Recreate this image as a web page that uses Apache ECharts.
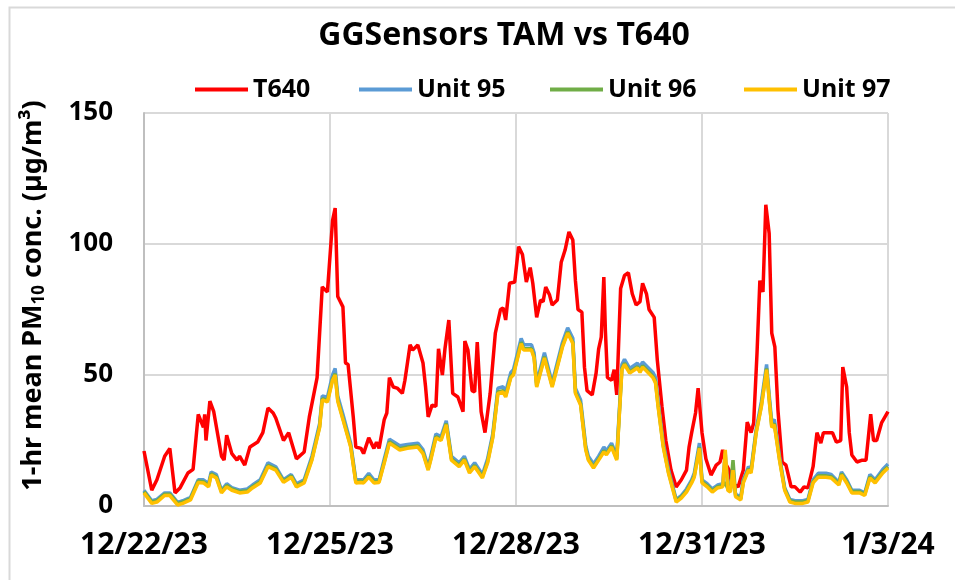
<!DOCTYPE html>
<html>
<head>
<meta charset="utf-8">
<script src="https://cdn.jsdelivr.net/npm/echarts@6/dist/echarts.min.js"></script>
<style>
  html, body { margin: 0; padding: 0; background: #fff; }
  #chart { width: 955px; height: 580px; }
</style>
</head>
<body>
<div id="chart"></div>
<script>
// x values are hours since 12/22/23 00:00
var tickLabels = ['12/22/23', '12/25/23', '12/28/23', '12/31/23', '1/3/24'];

var t640 = [[0,21],[3,6],[5,10],[8,19],[10,22],[12,5],[14,7],[17,12.6],[19,14],[21,35],[23,30],[23.5,35],[24,25],[25.5,40],[27,36],
  [30,19],[31,17.5],[32,27],[34,20],[36,17.5],[37,19],[39,15.6],[41,22.5],[44,24.4],[46,28],[48,37.4],[50,35.5],[51,33.6],[54,25],
  [56,28],[59,18],[62,20.6],[64,34],[67,49],[69,83.6],[71,81.7],[73,109],[74,113.7],[75,80],[77,76],[78,54.6],[79,54],[81,34],
  [82,22.5],[84,22],[85,20],[87,26],[89,22],[90,24.4],[91,22],[93,33],[94,35.5],[95,49],[96.5,45.4],[98,45],[100,43],[101,48],
  [103,61.5],[104,59.5],[106,61.5],[108,54.6],[109,45.4],[110,34],[111.5,38.5],[113,38],[114,60],[115.5,50],[116.5,60],[118,71],
  [119.5,43],[121.5,41.6],[123.5,36],[124.2,63],[125.4,59.5],[127,44],[128,43.5],[129,62.6],[130.5,36],[132,28],[134,43],[136,66],
  [138,75],[139,75.6],[140,71],[141.5,85],[143.5,85.5],[145,99],[146.5,96],[148,85.5],[149.5,91],[150.5,85],[152,72],[153.5,78.6],
  [154.5,78],[155.5,83.6],[157,80.5],[158,76.7],[160,78.6],[161.5,93],[163,97.7],[164.5,104.6],[166,101.5],[167,86],[168,75],
  [169.5,74],[170.5,53],[171.5,44],[173.5,42.4],[175,50.7],[176,60],[177,64.5],[178,87.4],[178.6,67],[179.4,49],[181,48],[182,52],
  [183,42.4],[184.5,83],[186,88],[187.5,89],[189,81],[190.5,76.7],[192,78],[193,85],[194.5,81],[195.5,75],[197.5,72],[198.7,55.7],
  [200.5,38],[202,25],[204,13.7],[206,7.3],[208,10],[210,13.7],[211,22.5],[212,28],[213.5,35.5],[214.5,45],[216,28],[217.5,18],
  [219.5,11.8],[221.5,15.6],[223,16.8],[224,21.4],[225,16.4],[226.5,13.7],[227.5,8.8],[230,7.3],[232,13.7],[233.5,32],[235,28],
  [236,31.7],[237.3,58.4],[238.4,86],[239.6,81.7],[240.7,115],[242,104],[243,66],[244.2,60.7],[245.4,36.6],[247,16.8],[248.5,15.6],
  [250.5,7.3],[252,7.3],[254,5.3],[255.5,7.3],[257,6.9],[259,15],[260.5,28],[262,24],[263,28],[265,28],[266.5,28],[268,24.4],
  [269.7,25],[270.5,53],[272,45.4],[273,28],[274,19.5],[276,16.8],[278,17.5],[279.5,17.5],[281.3,35],[282.4,25],[283.6,25],
  [285.5,31.7],[288,36]];

var unit95 = [[0,6],[3,2],[5,2.5],[8,5],[10,5],[13,1.4],[15,2],[18,3.3],[21,10],[23,10],[25,8.5],[26,13],[28,12],[30,6],[32,8.5],
  [34,7],[37,6],[40,6.5],[42,8],[45,10],[48,16.5],[51,15],[54,10],[57,12],[59,8.5],[62,10],[65,19],[68,31.5],[69,42],[71,41.5],
  [73,50],[74,52.5],[75,42],[77,35],[80,24],[82,10],[84,10],[85,10],[87,12.5],[89,10],[91,10],[93,18],[95,25.5],[99,23],[102,23.5],
  [106,24],[108,21.5],[110,15],[111,19],[113,27.5],[115,26.5],[117,32.5],[119,19],[122,16.5],[124,19],[126,14],[128,16.5],[131,12],
  [133,18],[135,27.5],[137,45],[139,45.5],[140,43.5],[142,51],[143,52],[146,64],[147,61.5],[150,61.5],[151,58.5],[152,47],[155,58.5],
  [158,47],[162,62.5],[164,68],[166,64],[167,45],[169,40.5],[171,23],[172,19],[174,16],[176,19],[178,22.5],[179,21],[181,24],[183,19],
  [185,54],[186,56],[188,52.5],[191,54.5],[192,53],[193,55],[195,53],[197,51],[198,49],[199,40],[201,24],[203,14],[206,2.5],[208,4],
  [210,6.5],[212,10],[213,12.5],[215,24],[216,10],[218,8.5],[220,6.5],[222,8],[224,8.5],[225,20],[226,7],[227,6.5],[228,12],[229,4.5],
  [231,3.5],[232,10],[234,15],[235,14],[237,29.5],[239,40],[241,54],[242,42.5],[243,32],[244,33],[246,19],[248,7],[250,2.5],[252,2],
  [255,2],[257,2.5],[259,10],[261,12.5],[264,12.5],[266,12],[269,9],[270,13],[272,10],[274,6],[277,6],[279,5],[281,12],[283,10],
  [286,14],[288,16]];

var unit96 = [[0,5.5],[3,1.5],[5,2],[8,4.5],[10,4.5],[13,1],[15,1.5],[18,2.8],[21,9.5],[23,9.3],[25,7.8],[26,12.3],[28,11.2],[30,5.5],
  [32,7.8],[34,6.5],[37,5.5],[40,5.8],[42,7.4],[45,9.3],[48,15.5],[51,14.2],[54,9.5],[57,11.5],[59,7.8],[62,9.3],[65,18],[68,30.5],
  [69,41],[71,40.2],[73,48.5],[74,50.5],[75,40.5],[77,33.5],[80,23],[82,9.3],[84,9.5],[85,9.3],[87,11.5],[89,9.3],[91,9.5],[93,16.9],
  [95,24.5],[99,21.9],[102,22.5],[106,23],[108,20.5],[110,14.2],[111,18],[113,26.5],[115,25.5],[117,31.5],[119,18],[122,15.5],
  [124,18],[126,13.1],[128,15.5],[131,11.2],[133,16.9],[135,26.5],[137,43.5],[139,44],[140,42.1],[142,49.5],[143,50.5],[146,62.5],
  [147,60],[150,60],[151,57],[152,45.9],[155,57],[158,45.9],[162,61.2],[164,66.5],[166,62.5],[167,43.5],[169,39],[171,21.9],[172,18],
  [174,15],[176,18],[178,21.1],[179,20],[181,23],[183,18],[185,52.5],[186,54.5],[188,51.2],[191,53.2],[192,51.5],[193,53.5],[195,51.5],
  [197,49.5],[198,47.5],[199,38.5],[201,23],[203,13.1],[206,2],[208,3.5],[210,5.8],[212,9.3],[213,11.5],[215,22.5],[216,9.3],[218,7.8],
  [220,5.8],[222,7.4],[224,7.8],[225,9],[226,6.5],[227,5.8],[228,17.5],[229,4],[231,2.8],[232,9.3],[234,14.2],[235,13.1],[237,28.5],
  [239,38.5],[241,52.5],[242,41],[243,30.5],[244,31.5],[246,18],[248,6.5],[250,2],[252,1.5],[255,1.5],[257,2],[259,9.3],[261,11.5],
  [264,11.5],[266,11.2],[269,8.5],[270,12.3],[272,9.3],[274,5.5],[277,5.5],[279,4.5],[281,11.2],[283,9.3],[286,13.1],[288,15]];

var unit97 = [[0,5],[3,1],[5,1.5],[8,4],[10,4],[13,0.4],[15,1],[18,2.3],[21,9],[23,8.8],[25,7.3],[26,11.8],[28,10.7],[30,5],[32,7.3],
  [34,6],[37,5],[40,5.3],[42,6.9],[45,8.8],[48,15],[51,13.7],[54,9],[57,11],[59,7.3],[62,8.8],[65,17.5],[68,30],[69,40.5],[71,39.7],
  [73,48],[74,50],[75,40],[77,33],[80,22.5],[82,8.8],[84,9],[85,8.8],[87,11],[89,8.8],[91,9],[93,16.4],[95,24],[99,21.4],[102,22],
  [106,22.5],[108,20],[110,13.7],[111,17.5],[113,26],[115,25],[117,31],[119,17.5],[122,15],[124,17.5],[126,12.6],[128,15],[131,10.7],
  [133,16.4],[135,26],[137,43],[139,43.5],[140,41.6],[142,49],[143,50],[146,62],[147,59.5],[150,59.5],[151,56.5],[152,45.4],[155,56.5],
  [158,45.4],[162,60.7],[164,66],[166,62],[167,43],[169,38.5],[171,21.4],[172,17.5],[174,14.5],[176,17.5],[178,20.6],[179,19.5],
  [181,22.5],[183,17.5],[185,52],[186,54],[188,50.7],[191,52.7],[192,51],[193,53],[195,51],[197,49],[198,47],[199,38],[201,22.5],
  [203,12.6],[206,1.5],[208,3],[210,5.3],[212,8.8],[213,11],[215,22],[216,8.8],[218,7.3],[220,5.3],[222,6.9],[224,7.3],[225,21.4],
  [226,6],[227,5.3],[228,13.7],[229,3.5],[231,2.3],[232,8.8],[234,13.7],[235,12.6],[237,28],[239,38],[241,52],[242,40.5],[243,30],
  [244,31],[246,17.5],[248,6],[250,1.5],[252,1],[255,1],[257,1.5],[259,8.8],[261,11],[264,11],[266,10.7],[269,8],[270,11.8],[272,8.8],
  [274,5],[277,5],[279,4],[281,10.7],[283,8.8],[286,12.6],[288,14.5]];

var seriesNames = ['T640', 'Unit 95', 'Unit 96', 'Unit 97'];
var seriesColors = ['#ff0000', '#5b9bd5', '#70ad47', '#ffc000'];
var seriesData = [t640, unit95, unit96, unit97];
var legendLeft = [190, 354, 545, 739];

var FONT = '"Noto Sans", "Open Sans", sans-serif';

var myChart = echarts.init(document.getElementById('chart'));

var legends = seriesNames.map(function (name, i) {
    return {
        data: [name],
        left: legendLeft[i],
        top: 72,
        icon: 'rect',
        itemWidth: 53,
        itemHeight: 4,
        textStyle: { fontFamily: FONT, fontWeight: 'bold', fontSize: 25, color: '#000' }
    };
});

var series = seriesNames.map(function (name, i) {
    return {
        name: name,
        type: 'line',
        data: seriesData[i],
        showSymbol: false,
        symbol: 'none',
        color: seriesColors[i],
        lineStyle: { width: 3.5, color: seriesColors[i] },
        animation: false
    };
});

option = {
    backgroundColor: '#fff',
    animation: false,
    title: {
        text: 'GGSensors TAM vs T640',
        left: 499,
        top: 15,
        textAlign: 'center',
        textStyle: { fontFamily: FONT, fontWeight: 'bold', fontSize: 32, color: '#000' }
    },
    legend: legends,
    grid: { left: 144, right: 67, top: 113, bottom: 74, outerBoundsMode: 'none' },
    xAxis: {
        type: 'value',
        min: 0,
        max: 288,
        interval: 72,
        axisLine: { show: true, lineStyle: { color: '#bfbfbf', width: 2 } },
        axisTick: { show: false },
        splitLine: { show: true, lineStyle: { color: '#d9d9d9', width: 2 } },
        axisLabel: {
            margin: 24,
            fontFamily: FONT, fontWeight: 'bold', fontSize: 30, color: '#000',
            formatter: function (v) { return tickLabels[Math.round(v / 72)]; }
        }
    },
    yAxis: {
        type: 'value',
        min: 0,
        max: 150,
        interval: 50,
        axisLine: { show: true, lineStyle: { color: '#bfbfbf', width: 2 } },
        axisTick: { show: false },
        splitLine: { show: true, lineStyle: { color: '#d9d9d9', width: 2 } },
        axisLabel: { margin: 31, fontFamily: FONT, fontWeight: 'bold', fontSize: 26, color: '#000' },
        name: '1-hr mean PM{sub|10} conc. (µg/m³)',
        nameLocation: 'middle',
        nameGap: 96,
        nameTextStyle: {
            fontFamily: FONT, fontWeight: 'bold', fontSize: 27, color: '#000', lineHeight: 30,
            padding: [0, 0, 0, 28],
            rich: {
                sub: { fontFamily: FONT, fontWeight: 'bold', fontSize: 17, color: '#000', lineHeight: 30, verticalAlign: 'bottom', padding: [12, 0, 0, 0] }
            }
        }
    },
    graphic: [{
        type: 'rect',
        left: 7, top: 5,
        shape: { width: 960, height: 600 },
        style: { fill: 'none', stroke: '#d9d9d9', lineWidth: 2 },
        silent: true
    }],
    series: series
};

myChart.setOption(option, true);
</script>
</body>
</html>
